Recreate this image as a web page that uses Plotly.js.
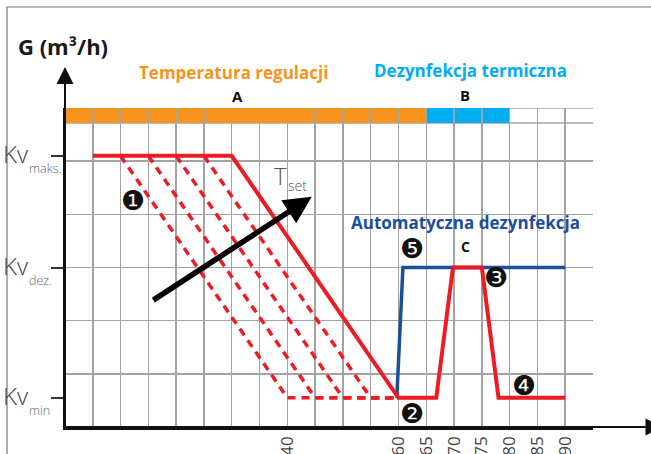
<!DOCTYPE html>
<html>
<head>
<meta charset="utf-8">
<script src="https://cdn.plot.ly/plotly-3.0.1.min.js"></script>
<style>html,body{margin:0;padding:0;background:#fff;}#chart{width:651px;height:454px;}</style>
</head>
<body>
<div id="chart"></div>
<script>
// ---- data ----
const xTickVals = [0,5,10,15,20,25,30,35,40,45,50,55,60,65,70,75,80,85,90,95];
const xTickText = ['','','','','','','','','40','','','','60','65','70','75','80','85','90',''];
const yGridVals = [0,1,2,3,4,5,6];
const kvLevels = [5.1, 3.0, 0.55];
const kvNames = ['maks.', 'dez.', 'min'];
// main regulation curve (solid red)
const mainX = [5, 30, 60, 66.8, 69.8, 75, 78, 90];
const mainY = [5.1, 5.1, 0.55, 0.55, 3.0, 3.0, 0.55, 0.55];
// automatic disinfection (blue)
const autoX = [59.7, 60.8, 90];
const autoY = [0.55, 3.0, 3.0];
// dashed curves for lower Tset
const dashedX = [[10,40,60],[15,45,60],[20,50,60],[25,55,60]];
const dashedY = [5.1, 0.55, 0.55];
// top band segments
const bandStart = [0, 65];
const bandEnd = [65, 80];
const bandColors = ['#F7941D', '#00AEEF'];
const bandBottom = 5.72;
// Tset arrow (tail -> head)
const tsetTail = [15.8, 2.38];
const tsetHead = [44.4, 4.33];

// ---- layout helpers (pixel -> paper) ----
const L = 65, T = 108, W = 528, H = 319;
const px = p => (p - L) / W;
const py = p => (T + H - p) / H;

const traces = [];
dashedX.forEach(dx => traces.push({
  x: dx, y: dashedY, mode: 'lines', type: 'scatter', hoverinfo: 'skip',
  line: {color: '#ED1C24', width: 3.5, dash: '8px,6px'}
}));
traces.push({x: autoX, y: autoY, mode: 'lines', type: 'scatter', hoverinfo: 'skip',
  line: {color: '#1B4F9C', width: 3.5}});
traces.push({x: mainX, y: mainY, mode: 'lines', type: 'scatter', hoverinfo: 'skip',
  line: {color: '#ED1C24', width: 4}});

const shapes = [];
bandStart.forEach((s, i) => shapes.push({
  type: 'rect', xref: 'x', yref: 'y', x0: s, x1: bandEnd[i], y0: bandBottom, y1: 6,
  fillcolor: bandColors[i], line: {width: 0}, layer: 'below'
}));
[bandBottom, 6].forEach(v => shapes.push({type: 'line', xref: 'paper', yref: 'y', x0: 0, x1: 1, y0: v, y1: v,
  line: {color: '#a3a3a3', width: 1.5}, layer: 'below'}));
// outer frame
shapes.push({type: 'rect', xref: 'paper', yref: 'paper', x0: px(7), x1: px(700), y0: py(500), y1: py(7),
  line: {color: '#777', width: 1.2}, fillcolor: 'rgba(0,0,0,0)'});

const fontB = 'Open Sans, Noto Sans, sans-serif';
const ann = [];
function txt(t, x, y, font, opts) {
  ann.push(Object.assign({text: t, xref: 'paper', yref: 'paper', x: px(x), y: py(y),
    showarrow: false, xanchor: 'center', yanchor: 'middle', font: font}, opts || {}));
}
txt('<b>G (m³/h)</b>', 63, 46, {family: fontB, size: 22, color: '#1a1a1a'});
txt('<b>Temperatura regulacji</b>', 233, 72, {family: fontB, size: 17, color: '#F7941D'});
txt('<b>A</b>', 237, 96, {family: fontB, size: 15, color: '#111'});
txt('<b>Dezynfekcja termiczna</b>', 470, 71, {family: fontB, size: 17, color: '#00AEEF'});
txt('<b>B</b>', 465, 95, {family: fontB, size: 15, color: '#111'});
txt('<b>Automatyczna dezynfekcja</b>', 465, 222, {family: fontB, size: 17, color: '#1C4DA1'});
txt('<b>C</b>', 465, 246, {family: fontB, size: 14, color: '#111'});
txt('T', 280, 175, {family: fontB, size: 24, color: '#555', weight: 300});
txt('set', 297, 185, {family: fontB, size: 14, color: '#555', weight: 300});
txt('<b>T (°C)</b>', 597, 445, {family: fontB, size: 22, color: '#1a1a1a'}, {xanchor: 'left', yanchor: 'top'});
// numbered markers
const markFont = 'DejaVu Sans, sans-serif';
[['❶',133,200],['❷',412,413],['❸',496,277],['❹',524,385],['❺',412,248]].forEach(m =>
  txt(m[0], m[1], m[2], {family: markFont, size: 27, color: '#111'}));
// Kv labels
kvLevels.forEach((lv, i) => {
  ann.push({text: 'Kv', xref: 'paper', yref: 'y', x: px(1), y: lv, yshift: 2, xanchor: 'left', yanchor: 'middle',
    showarrow: false, font: {family: fontB, size: 24, color: '#444', weight: 300}});
  ann.push({text: kvNames[i], xref: 'paper', yref: 'y', x: px(27), y: lv, yshift: -13, xanchor: 'left', yanchor: 'middle',
    showarrow: false, font: {family: fontB, size: 12.5, color: '#666', weight: 300}});
});
// axis arrows
ann.push({text: '', x: 0, y: 6.77, xref: 'x', yref: 'y', ax: 0, ay: 0, axref: 'x', ayref: 'y',
  showarrow: true, arrowhead: 2, arrowsize: 1.7, arrowwidth: 2, arrowcolor: '#111', standoff: 0, startstandoff: 0, borderpad: 0});
ann.push({text: '', x: 107.5, y: 0, xref: 'x', yref: 'y', ax: 0, ay: 0, axref: 'x', ayref: 'y',
  showarrow: true, arrowhead: 2, arrowsize: 1.7, arrowwidth: 2, arrowcolor: '#111', standoff: 0, startstandoff: 0, borderpad: 0});
// Tset arrow
ann.push({text: '', x: tsetHead[0], y: tsetHead[1], xref: 'x', yref: 'y', ax: tsetTail[0], ay: tsetTail[1], axref: 'x', ayref: 'y',
  showarrow: true, arrowhead: 2, arrowsize: 1.0, arrowwidth: 5.5, arrowcolor: '#000', standoff: 0, startstandoff: 0, borderpad: 0});

const layout = {
  width: 651, height: 454,
  margin: {l: L, r: 651 - L - W, t: T, b: 454 - T - H, pad: 0},
  paper_bgcolor: '#fff', plot_bgcolor: '#fff',
  showlegend: false,
  xaxis: {range: [0, 95], tickmode: 'array', tickvals: xTickVals, ticktext: xTickText,
    showgrid: true, gridcolor: '#a3a3a3', gridwidth: 1.5, zeroline: false,
    showline: true, linecolor: '#111', linewidth: 2.5, ticks: '', tickangle: -90,
    tickfont: {family: fontB, size: 17, color: '#444'}, fixedrange: true},
  yaxis: {range: [0, 6], tickmode: 'array', tickvals: kvLevels, ticktext: ['', '', ''],
    showgrid: false, zeroline: false, showline: true, linecolor: '#111', linewidth: 2.5,
    ticks: 'outside', ticklen: 12, tickwidth: 2, tickcolor: '#333',
    minor: {tickmode: 'array', tickvals: yGridVals, showgrid: true, gridcolor: '#a3a3a3', gridwidth: 1.5, ticks: ''},
    fixedrange: true},
  shapes: shapes,
  annotations: ann
};
Plotly.newPlot('chart', traces, layout, {staticPlot: true, displayModeBar: false});
</script>
</body>
</html>
